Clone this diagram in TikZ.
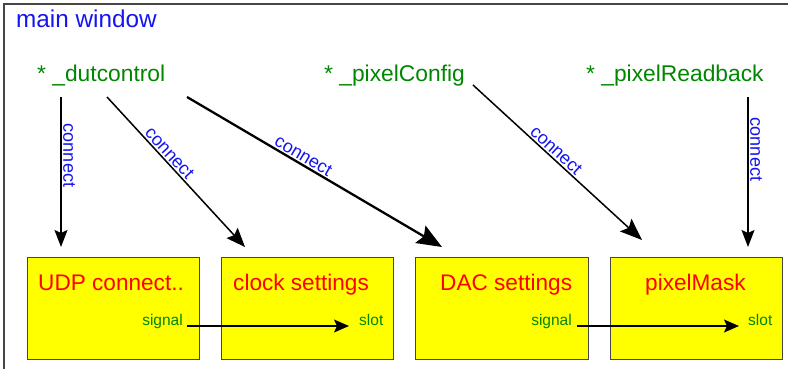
\documentclass[tikz,border=0pt]{standalone}
\usepackage{fontspec}
\setmainfont{Liberation Sans}
\usetikzlibrary{arrows.meta}
\definecolor{tblue}{RGB}{20,20,240}
\definecolor{tgreen}{RGB}{0,135,0}
\definecolor{tred}{RGB}{255,0,0}
\definecolor{tyellow}{RGB}{255,255,0}
\definecolor{frame}{RGB}{70,70,70}
\tikzset{
  x=1pt, y=-1pt,
  widget/.style={draw=frame, line width=1.3pt, fill=tyellow, anchor=north west, inner sep=0pt},
  srclabel/.style={text=tgreen, font=\fontsize{22.8}{24}\selectfont, anchor=base west, inner sep=0pt},
  titlelabel/.style={text=tred, font=\fontsize{22.6}{24}\selectfont, anchor=base west, inner sep=0pt},
  sslabel/.style={text=tgreen, font=\fontsize{15.5}{17}\selectfont, inner sep=0pt},
  conlabel/.style={text=tblue, font=\fontsize{18}{20}\selectfont, sloped, above, inner sep=1.5pt},
  conarrow/.style={line width=1.5pt, -{Stealth[length=17pt,width=13pt,inset=3pt]}},
  bigarrow/.style={line width=2.3pt, -{Stealth[length=25pt,width=20pt,inset=4pt]}},
  sigarrow/.style={line width=1.5pt, -{Stealth[length=15pt,width=13pt,inset=3pt]}}
}
\begin{document}
\begin{tikzpicture}
\useasboundingbox (0,0) rectangle (788,369);
% main window frame
\draw[frame, line width=1.5pt] (4,372) -- (4,4) -- (792,4);
\node[text=tblue, font=\fontsize{24.3}{28}\selectfont, anchor=base west, inner sep=0pt] (title) at (16,28) {main window};

% source labels
\node[srclabel] (dut) at (37,82) {* \_dutcontrol};
\node[srclabel] (pcfg) at (324,82) {* \_pixelConfig};
\node[srclabel] (prb) at (586,82) {* \_pixelReadback};

% widgets
\node[widget, minimum width=172pt, minimum height=102pt] (udp) at (27,257) {};
\node[widget, minimum width=172pt, minimum height=102pt] (clk) at (221,257) {};
\node[widget, minimum width=173pt, minimum height=102pt] (dac) at (415,257) {};
\node[widget, minimum width=172pt, minimum height=102pt] (pm) at (610,257) {};

\node[titlelabel] (udpt) at (38,290) {UDP connect..};
\node[titlelabel] (clkt) at (233,290) {clock settings};
\node[titlelabel] (dact) at (440,290) {DAC settings};
\node[titlelabel] (pmt) at (645,290) {pixelMask};

% signal / slot
\node[sslabel, anchor=base east] (sig1) at (183,325) {signal};
\node[sslabel, anchor=base west] (slot1) at (359,325) {slot};
\node[sslabel, anchor=base east] (sig2) at (572,325) {signal};
\node[sslabel, anchor=base west] (slot2) at (748,325) {slot};
\coordinate (sig1e) at (187,326);
\coordinate (slot1w) at (349,326);
\coordinate (sig2e) at (577,326);
\coordinate (slot2w) at (739,326);
\draw[sigarrow] (sig1e) -- (slot1w);
\draw[sigarrow] (sig2e) -- (slot2w);

% connect arrows
\coordinate (a1s) at (61,97);   \coordinate (a1e) at (61,247);
\coordinate (a2s) at (107,97);  \coordinate (a2e) at (245,247);
\coordinate (a3s) at (187,97);  \coordinate (a3e) at (442,247);
\coordinate (a4s) at (473,85);  \coordinate (a4e) at (642,240);
\coordinate (a5s) at (748,97);  \coordinate (a5e) at (748,247);
\draw[conarrow] (a1s) -- node[conlabel, pos=0.39] {connect} (a1e);
\draw[conarrow, -{Stealth[length=19pt,width=15pt,inset=3pt]}] (a2s) -- node[conlabel, pos=0.41] {connect} (a2e);
\draw[bigarrow] (a3s) -- node[conlabel, pos=0.44] {connect} (a3e);
\draw[conarrow, -{Stealth[length=22pt,width=17pt,inset=4pt]}] (a4s) -- node[conlabel, pos=0.46] {connect} (a4e);
\draw[conarrow] (a5s) -- node[conlabel, pos=0.35] {connect} (a5e);
\end{tikzpicture}
\end{document}
